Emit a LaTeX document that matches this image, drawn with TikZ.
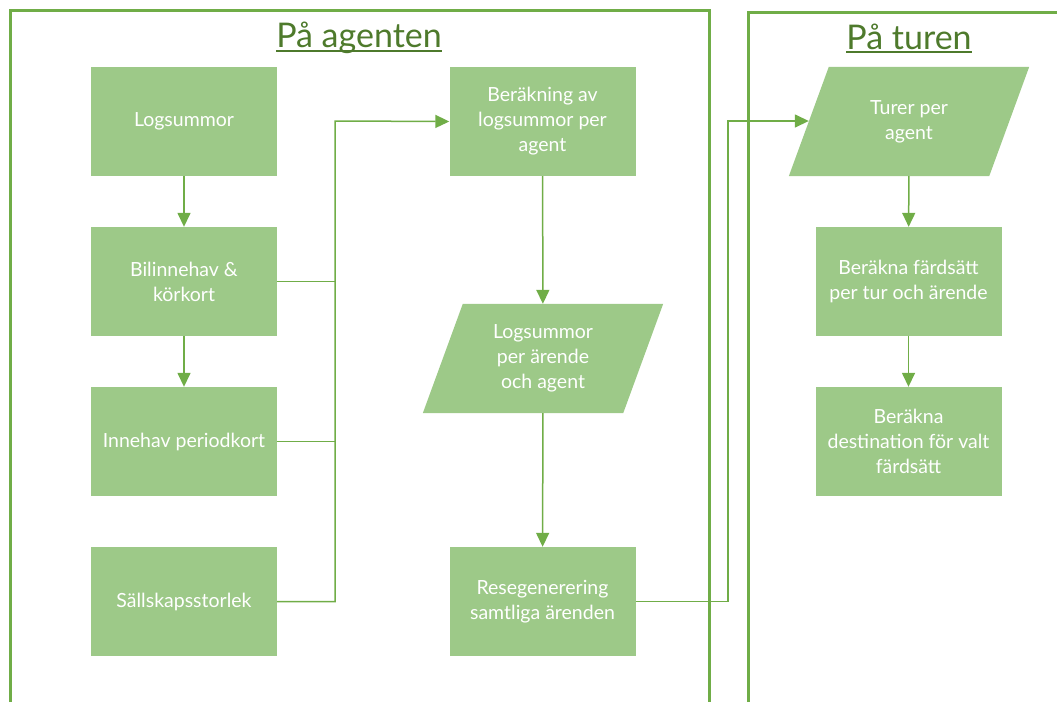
\documentclass[tikz,border=0pt]{standalone}
\usepackage{fontspec}
\setmainfont{Lato}
\usetikzlibrary{arrows.meta,backgrounds}

\definecolor{boxgreen}{RGB}{157,201,136}
\definecolor{linegreen}{RGB}{112,173,71}
\definecolor{titlegreen}{RGB}{78,122,44}

\begin{document}
\begin{tikzpicture}[x=1pt,y=-1pt,
  box/.style={fill=boxgreen, text=white, align=center, inner sep=0pt,
    minimum width=186pt, minimum height=109pt,
    font=\fontsize{19.5}{25}\selectfont},
  data/.style={box, fill=none, minimum width=200pt},
  flow/.style={draw=linegreen, line width=1.5pt, -{Triangle[length=14pt,width=13pt]}},
  link/.style={draw=linegreen, line width=1.5pt},
  frame/.style={draw=linegreen, line width=3pt},
  title/.style={text=titlegreen, anchor=base, inner sep=0pt, font=\fontsize{34}{40}\selectfont},
  uline/.style={draw=titlegreen, line width=2pt}]

  \newcommand\slantfill[1]{%
    \fill[boxgreen] ([xshift=-20pt]#1.south west) -- ([xshift=-20pt]#1.south east)
      -- ([xshift=20pt]#1.north east) -- ([xshift=20pt]#1.north west) -- cycle;}

  \useasboundingbox (0,0) rectangle (1057,702);

  %% frames
  \draw[frame] (10,702) |- (709,10) -- (709,702);
  \draw[frame] (748,702) |- (1060,12);

  \node[title] (ttlA) at (359,47) {På agenten};
  \node[title] (ttlB) at (909,49) {På turen};
  \draw[uline] ([yshift=-4pt]ttlA.base west) -- ([yshift=-4pt]ttlA.base east);
  \draw[uline] ([yshift=-3pt]ttlB.base west) -- ([yshift=-3pt]ttlB.base east);

  % agenten
  \node[box] (log) at (184,121.5) {Logsummor};
  \node[box] (bil) at (184,281.5) {Bilinnehav \&\\körkort};
  \node[box] (inn) at (184,441.5) {Innehav periodkort};
  \node[box] (sal) at (184,601.5) {Sällskapsstorlek};

  \node[box] (ber) at (542.5,121.5) {Beräkning av\\logsummor per\\agent};
  \node[data] (lpa) at (543,358.5) {Logsummor\\per ärende\\och agent};
  \node[box] (res) at (542.5,601.5) {Resegenerering\\samtliga ärenden};

  % turen
  \node[data] (tur) at (909,121.5) {Turer per\\agent};
  \node[box] (frd) at (908.5,281.5) {Beräkna färdsätt\\per tur och ärende};
  \node[box] (dst) at (908.5,441.5) {Beräkna\\destination för valt\\färdsätt};

  \begin{scope}[on background layer]
    \slantfill{lpa}
    \slantfill{tur}
  \end{scope}

  \coordinate (knA) at (335,121);
  \coordinate (knB) at (728,121);

  \draw[flow] (log) -- (bil); %% log->bil
  \draw[flow] (bil) -- (inn); %% bil->inn
  \draw[link] (bil.east) -- (knA |- bil.east);
  \draw[link] (inn.east) -- (knA |- inn.east);
  \draw[flow] (sal.east) -| (knA) -- (ber.west); %% sal->ber

  \draw[flow] (ber) -- (lpa); %% ber->lpa
  \draw[flow] (lpa) -- (res); %% lpa->res
  \draw[flow] (res.east) -| (knB) -- (knB -| tur.west); %% res->tur

  \draw[flow] (tur) -- (frd); %% tur->frd
  \draw[flow] (frd) -- (dst); %% frd->dst

\end{tikzpicture}
\end{document}
